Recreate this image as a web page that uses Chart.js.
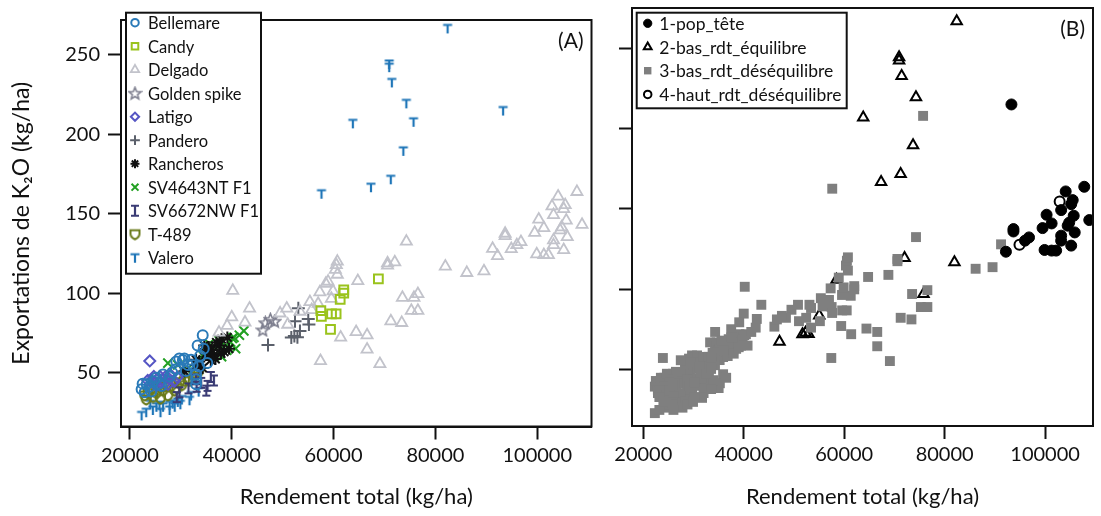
<!DOCTYPE html>
<html lang="fr">
<head>
<meta charset="utf-8">
<script src="https://cdn.jsdelivr.net/npm/chart.js@4.4.0/dist/chart.umd.min.js"></script>
<style>
  html, body { margin: 0; padding: 0; background: #fff; }
  #wrap { position: relative; width: 1101px; height: 516px; }
  #wrap canvas { position: absolute; top: 0; }
  #chartA { left: 0; }
  #chartB { left: 600px; }
</style>
</head>
<body>
<div id="wrap">
  <canvas id="chartA" width="600" height="516"></canvas>
  <canvas id="chartB" width="501" height="516"></canvas>
</div>
<script>
// [rendement total kg/ha, exportations K2O kg/ha, groupe 1..4]
const bellemare = [[22300,39.5,3],[22900,37.5,3],[23300,42.6,3],[24600,44.5,3],[25200,46.7,3],[26500,48.7,3],[27800,47.5,3],
  [29100,56.9,3],[29700,58.9,3],[30400,57.9,3],[30700,58.9,3],[31400,54.8,3],[32300,54.8,3],[33000,48.7,3],[33000,45.7,3],
  [33000,42.6,3],[33300,67,3],[34300,73.5,3],[33600,53.8,3],[23800,41,3],[24200,38,3],[25800,43,3],[26200,41.5,3],
  [28300,50,3],[29000,52,3],[31000,51,3],[32000,58,3],[33800,60.5,3],[34500,65,3],[35200,56,3],[22500,43,3]];
const candy = [[68800,109,3],[62000,102,3],[62000,100,3],[61300,96,3],[57500,89,3],[57600,85.3,3],[59600,86.9,3],
  [60500,86.9,3],[59400,77.2,3]];
const delgado = [[40200,101.6,3],[43500,90.4,3],[40000,84.9,3],[42600,81.6,3],[37500,75.2,3],[39100,79.5,3],
  [49500,87.3,3],[50800,90.4,3],[51000,80.2,3],[53400,88.4,3],[55350,94.5,3],[55700,89.4,3],[56970,93.4,3],[57300,100.6,3],
  [58470,106,2],[58920,107.3,3],[59570,96.5,3],[59890,101.2,3],[60350,114.8,3],[60540,117.8,3],[60740,119.9,3],[60740,111.7,3],
  [64760,107.7,3],[70600,118.9,3],[70600,117.5,3],[72020,119.5,2],[74300,132.5,3],[73520,97.1,3],[75790,97.1,2],[76560,99.5,3],
  [75270,89,3],[76560,89,3],[71250,82.3,3],[73390,81.3,3],[64430,75.6,3],[66580,73.5,3],[61390,72.1,3],[66580,64.6,3],
  [69100,55.4,3],[57430,57.3,3],[81950,116.8,2],[86170,112.8,3],[89540,113.8,3],[91230,128,3],
  [107800,163.8,1],[104100,160.9,1],[105500,155.5,1],[105200,153,1],[102900,154.7,4],[103200,149.3,1],[100300,146.4,1],
  [105700,145.8,1],[108800,143.1,1],[101300,141,1],[99500,138.1,1],[93700,137.5,1],[93700,136,1],[104500,139.6,1],
  [105900,135.4,1],[96800,132.3,1],[96000,130.3,1],[94900,127.8,4],[103200,133.4,1],[103200,130.3,1],[105200,127.2,1],
  [99900,124.5,1],[101300,124.1,1],[102200,124.1,1],[92200,123.4,1],[104800,141.5,1]];
const goldenSpike = [[46100,76.8,3],[46600,81.3,3],[48400,82.3,3],[47600,83.5,3]];
const latigo = [[23900,57.3,3],[24200,45,3],[25400,46,3],[26400,45,3],[27700,46,3],[28700,44.5,3],[24800,43,3],
  [27000,43.5,3],[25900,47.5,3],[23500,45,3],[24700,47.5,3],[26000,44,3],[26900,47,3],[28000,48.5,3],[29300,47,3],
  [25200,41.8,3],[27500,42.5,3]];
const pandero = [[53080,90.4,3],[52430,82.3,3],[55030,83.7,2],[55160,80.2,3],[53400,76.2,3],[51700,72,2],[52300,73,2],
  [52900,72.2,2],[47120,67.4,2]];
const rancheros = [[39140,72.1,3],[34600,67,3],[37510,67,3],[38490,63,3],[34920,62,3],[33620,56.9,3],[35890,57.9,3],
  [32970,54.8,3],[34270,52.8,3],[30700,50.8,3],[39460,65,3],[36500,61,3],[36000,64,3],[37000,69,3],[38000,71,3],
  [35500,66,3],[33000,58,3],[36800,58.5,3],[37900,62,3]];
const sv4643 = [[42380,76.2,3],[40430,72.1,3],[40760,65,3],[38810,67,3],[36870,65,3],[35240,63,3],[34270,61,3],
  [27460,55.9,3],[29400,54.8,3],[35570,68.1,3],[37510,70.1,3],[39790,69.1,3],[40110,71.5,3],[36000,62,3],[38000,60,3],
  [41500,73.5,3],[39000,64,3],[31200,52,3],[33500,57.5,3]];
const sv6672 = [[35890,47.2,3],[35240,41.6,3],[35000,38.6,3],[33100,41,3],[32970,45.7,3],[29730,37.5,3],[29210,34.5,3],
  [31500,40,3],[34000,43.5,3],[36500,45,3]];
const t489 = [[22920,35.5,3],[24220,39.6,3],[23600,37,3],[26490,38.6,3],[27140,41.6,3],[28110,41.6,3],[28760,43.7,3],
  [29730,43.7,3],[30700,44.7,3],[31680,44.7,3],[28760,38.6,3],[27460,35.5,3],[24540,34.5,3],[31350,45.7,3],
  [25200,37,3],[25900,40.5,3],[29200,40,3],[30200,42,3],[32600,47.5,3],[33500,50.5,3],[23200,33,3],[26000,33.5,3]];
const valero = [[82400,266.7,2],[70930,244.3,2],[70930,242.3,2],[71440,232.7,2],[74290,219.5,2],[93300,215,1],
  [63790,206.9,2],[75710,207.9,3],[73710,189.6,2],[71240,171.7,2],[67350,166.7,2],[57620,162.6,3],
  [22300,23,3],[24500,26.4,3],[25200,28.4,3],[25800,29.4,3],[26500,28.4,3],[27800,29.4,3],[28400,30.4,3],
  [29400,31.5,3],[27800,26.4,3],[32000,35.5,3],[31700,32.5,3],[28800,28.4,3],[23200,25,3],[26000,25,3],
  [30200,33,3],[33500,38,3],[29900,30,3],[24000,30,3]];

const groupes = ['1-pop_tête', '2-bas_rdt_équilibre', '3-bas_rdt_déséquilibre', '4-haut_rdt_déséquilibre'];
const ticksX = [20000, 40000, 60000, 80000, 100000];
const ticksY = [50, 100, 150, 200, 250];

Chart.defaults.font.family = 'Lato';
Chart.defaults.color = '#111';

// petits dessins pour les symboles que Chart.js n'a pas
function symbole(taille, dessin) {
  const c = document.createElement('canvas');
  c.width = taille; c.height = taille;
  const ctx = c.getContext('2d');
  dessin(ctx, taille);
  return c;
}
const symT = symbole(12, ctx => {
  ctx.strokeStyle = '#1f76b8'; ctx.lineWidth = 2.2;
  ctx.beginPath(); ctx.moveTo(1.5, 2.5); ctx.lineTo(10.5, 2.5); ctx.moveTo(6, 2.5); ctx.lineTo(6, 11); ctx.stroke();
});
const symI = symbole(14, ctx => {
  ctx.strokeStyle = '#3a3b74'; ctx.lineWidth = 2.2;
  ctx.beginPath();
  ctx.moveTo(3, 2); ctx.lineTo(11, 2); ctx.moveTo(3, 12); ctx.lineTo(11, 12);
  ctx.moveTo(7, 2); ctx.lineTo(7, 12); ctx.stroke();
});
const symBouclier = symbole(13, ctx => {
  ctx.strokeStyle = '#6b7b1c'; ctx.lineWidth = 2;
  ctx.beginPath();
  ctx.moveTo(2, 2.5); ctx.lineTo(11, 2.5); ctx.lineTo(11, 6);
  ctx.quadraticCurveTo(11, 9.5, 6.5, 11.5); ctx.quadraticCurveTo(2, 9.5, 2, 6);
  ctx.closePath(); ctx.stroke();
});
const symEtoile = symbole(15, ctx => {
  ctx.strokeStyle = '#7d7e8e'; ctx.lineWidth = 1.6;
  ctx.beginPath();
  for (let k = 0; k < 10; k++) {
    const r = k % 2 ? 2.8 : 6.3;
    const a = -Math.PI / 2 + k * Math.PI / 5;
    const px = 7.5 + r * Math.cos(a), py = 8 + r * Math.sin(a);
    k ? ctx.lineTo(px, py) : ctx.moveTo(px, py);
  }
  ctx.closePath(); ctx.stroke();
});

const pts = arr => arr.map(p => ({ x: p[0], y: p[1] }));
const vide = 'rgba(0,0,0,0)';

function serie(label, arr, style, couleur, rayon, epaisseur, fond) {
  return {
    label, data: pts(arr), pointStyle: style, pointRadius: rayon, pointHoverRadius: rayon,
    borderColor: couleur, backgroundColor: fond || vide, borderWidth: epaisseur
  };
}

const seriesA = [
  serie('Bellemare', bellemare, 'circle', '#2a7ab8', 5, 2),
  serie('Candy', candy, 'rect', '#9ac31c', 6.2, 2),
  serie('Delgado', delgado, 'triangle', '#c2c3cb', 6.4, 1.8),
  serie('Golden spike', goldenSpike, symEtoile, '#7d7e8e', 6),
  serie('Latigo', latigo, 'rectRot', '#5656c4', 5.5, 2),
  serie('Pandero', pandero, 'cross', '#5b606b', 6.5, 2),
  serie('Rancheros', rancheros, 'star', '#111', 6, 2),
  serie('SV4643NT F1', sv4643, 'crossRot', '#22a022', 6.5, 2),
  serie('SV6672NW F1', sv6672, symI, '#3a3b74', 6),
  serie('T-489', t489, symBouclier, '#6b7b1c', 6),
  serie('Valero', valero, symT, '#1f76b8', 6)
];

const tous = [].concat(bellemare, candy, delgado, goldenSpike, latigo, pandero, rancheros, sv4643, sv6672, t489, valero);
const duGroupe = g => tous.filter(p => p[2] === g);
const seriesB = [
  Object.assign(serie(groupes[0], duGroupe(1), 'circle', '#000', 5.5, 1, '#000'), { order: 0 }),
  Object.assign(serie(groupes[1], duGroupe(2), 'triangle', '#000', 6, 2), { order: 2 }),
  Object.assign(serie(groupes[2], duGroupe(3), 'rect', '#7f7f7f', 7, 0, '#7f7f7f'), { order: 1 }),
  Object.assign(serie(groupes[3], duGroupe(4), 'circle', '#000', 5, 2, '#fff'), { order: 0 })
];

// cadre complet autour de la zone de tracé, légende encadrée et lettre du panneau
function decor(o) {
  return {
    id: 'decor',
    afterDatasetsDraw(chart) {
      const { ctx, chartArea: a } = chart;
      ctx.save();
      ctx.lineWidth = 2; ctx.strokeStyle = '#111';
      ctx.strokeRect(a.left, a.top, a.right - a.left, a.bottom - a.top);

      ctx.fillStyle = '#fff';
      ctx.fillRect(o.x, o.y, o.w, o.h);
      ctx.strokeRect(o.x, o.y, o.w, o.h);
      ctx.font = o.police + 'px Lato';
      ctx.textBaseline = 'middle';
      ctx.textAlign = 'left';
      chart.data.datasets.forEach((ds, i) => {
        const cy = o.y + o.y0 + i * o.pas;
        ctx.fillStyle = ds.backgroundColor;
        ctx.strokeStyle = ds.borderColor;
        ctx.lineWidth = ds.borderWidth;
        Chart.helpers.drawPoint(ctx, { pointStyle: ds.pointStyle, rotation: 0,
          radius: ds.pointRadius * 0.75, borderWidth: ds.borderWidth }, o.xm, cy);
        ctx.fillStyle = '#111';
        ctx.fillText(ds.label, o.xt, cy + 1);
      });

      ctx.font = '21px Lato';
      ctx.textAlign = 'right';
      ctx.fillText(o.lettre, a.right - 8, a.top + 21);
      ctx.restore();
    }
  };
}

function echelles(xMin, xMax, yMin, yMax, largeurY, hauteurX, etiquettesY) {
  const trait = { drawOnChartArea: false, drawTicks: true, tickLength: 13, tickWidth: 2, tickColor: '#111' };
  const bord = { display: true, width: 2, color: '#111' };
  return {
    x: {
      type: 'linear', min: xMin, max: xMax,
      afterBuildTicks: s => { s.ticks = ticksX.map(v => ({ value: v })); },
      afterFit: s => { s.height = hauteurX; },
      grid: trait, border: bord,
      ticks: { font: { size: 20 }, padding: 4, callback: v => String(v) },
      title: { display: true, text: 'Rendement total (kg/ha)', font: { size: 22 }, padding: { top: 0, bottom: 6 } }
    },
    y: {
      type: 'linear', min: yMin, max: yMax,
      afterBuildTicks: s => { s.ticks = ticksY.map(v => ({ value: v })); },
      afterFit: s => { s.width = largeurY; },
      grid: trait, border: bord,
      ticks: { display: etiquettesY, font: { size: 20 }, padding: 8 },
      title: { display: etiquettesY, text: 'Exportations de K₂O (kg/ha)', font: { size: 23 }, padding: { top: 8, bottom: 0 } }
    }
  };
}

const commun = {
  responsive: false, animation: false,
  plugins: { legend: { display: false }, tooltip: { enabled: false } }
};

new Chart(document.getElementById('chartA'), {
  type: 'scatter',
  data: { datasets: seriesA },
  options: Object.assign({}, commun, {
    layout: { padding: { top: 7, right: 4.5, bottom: 0, left: 0 } },
    scales: echelles(18250, 110660, 16, 272, 121, 89.5, true)
  }),
  plugins: [decor({ x: 126, y: 12.7, w: 135, h: 261, y0: 10, pas: 23.5, xm: 135, xt: 148, police: 16.5, lettre: '(A)' })]
});

new Chart(document.getElementById('chartB'), {
  type: 'scatter',
  data: { datasets: seriesB },
  options: Object.assign({}, commun, {
    layout: { padding: { top: 6.7, right: 4, bottom: 0, left: 0 } },
    scales: echelles(17750, 109540, 15, 275, 32, 90, false)
  }),
  plugins: [decor({ x: 36.7, y: 12.7, w: 210, h: 95.6, y0: 10.6, pas: 23.7, xm: 47.7, xt: 59.3, police: 17.5, lettre: '(B)' })]
});
</script>
</body>
</html>
